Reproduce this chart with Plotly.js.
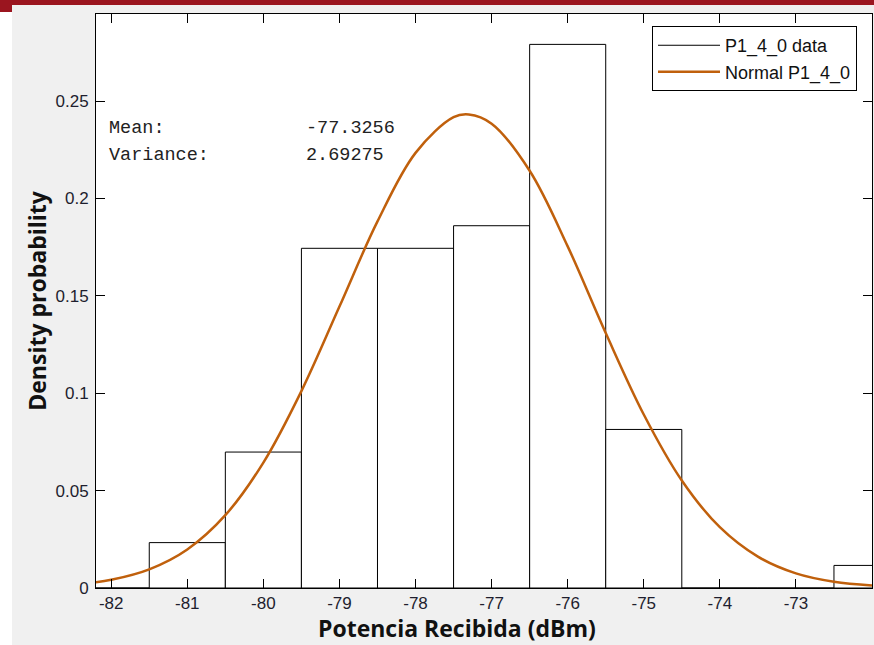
<!DOCTYPE html>
<html>
<head>
<meta charset="utf-8">
<script src="https://cdn.plot.ly/plotly-3.0.1.min.js"></script>
<style>
  html, body { margin: 0; padding: 0; background: #ffffff; width: 874px; height: 645px; overflow: hidden; }
  #topbar { position: absolute; left: 0; top: 0; width: 874px; height: 5px; background: #9b151f; }
  #toptab { position: absolute; left: 0; top: 0; width: 12px; height: 12px; background: #9b151f; }
  #chart { position: absolute; left: 12px; top: 5px; width: 862px; height: 640px; }
</style>
</head>
<body>
<div id="chart"></div>
<div id="topbar"></div>
<div id="toptab"></div>
<script>
// Histogram (density, bin width 1 dBm)
const binCenters = [-82, -81, -80, -79, -78, -77, -76, -75, -74, -73, -72];
const binDensity = [0, 0.0233, 0.0698, 0.1744, 0.1744, 0.1860, 0.2791, 0.0814, 0, 0, 0.0116];

// Fitted normal curve
const curveX = [-82.2, -82, -81.5, -81, -80.5, -80, -79.5, -79, -78.5, -78, -77.5, -77.3, -77, -76.5, -76, -75.5, -75, -74.5, -74, -73.5, -73, -72.5, -72];
const curveY = [0.0030, 0.0042, 0.0096, 0.0198, 0.0374, 0.0644, 0.1011, 0.1445, 0.1882, 0.2234, 0.2417, 0.2431, 0.2384, 0.2142, 0.1754, 0.1309, 0.0891, 0.0552, 0.0312, 0.0161, 0.0075, 0.0032, 0.0013];

const xTickVals = [-82, -81, -80, -79, -78, -77, -76, -75, -74, -73];
const xTickText = ["-82", "-81", "-80", "-79", "-78", "-77", "-76", "-75", "-74", "-73"];
const yTickVals = [0, 0.05, 0.1, 0.15, 0.2, 0.25];
const yTickText = ["0", "0.05", "0.1", "0.15", "0.2", "0.25"];

const seriesNames = ["P1_4_0 data", "Normal P1_4_0"];
const statLabels = ["Mean:", "Variance:"];
const statValues = ["-77.3256", "2.69275"];
const xTitle = 'Potencia Recibida (dBm)';
const yTitle = 'Density probability';

const traces = [
  {
    type: 'bar', x: binCenters, y: binDensity, width: 1,
    marker: { color: '#ffffff', line: { color: '#000000', width: 1 } },
    showlegend: false, hoverinfo: 'skip'
  },
  {
    type: 'scatter', mode: 'lines', x: [null], y: [null], name: seriesNames[0],
    line: { color: '#000000', width: 1 }
  },
  {
    type: 'scatter', mode: 'lines', x: curveX, y: curveY, name: seriesNames[1],
    line: { color: '#c0600c', width: 2.5, shape: 'spline', smoothing: 1 }
  }
];

const tickFont = { family: 'Arial, "Liberation Sans", sans-serif', size: 17, color: '#1e1e2e' };
const titleFont = { family: '"Open Sans", sans-serif', size: 23, color: '#111111', weight: 'bold' };
const monoFont = { family: '"Liberation Mono", "Courier New", monospace', size: 18.5, color: '#222222' };

const layout = {
  width: 862, height: 640,
  margin: { l: 84, r: 2, t: 9, b: 57 },
  paper_bgcolor: '#f0f0f0', plot_bgcolor: '#ffffff',
  bargap: 0,
  showlegend: true,
  legend: {
    x: 0.7165, y: 0.979, xanchor: 'left', yanchor: 'top',
    bgcolor: '#ffffff', bordercolor: '#000000', borderwidth: 1,
    font: { family: 'Arial, "Liberation Sans", sans-serif', size: 18, color: '#111111' },
    itemwidth: 62, tracegroupgap: 0
  },
  xaxis: {
    range: [-82.2, -72.0], tickmode: 'array', tickvals: xTickVals, ticktext: xTickText,
    ticks: 'inside', ticklen: 9, tickwidth: 1, tickcolor: '#000000',
    showline: true, linecolor: '#000000', linewidth: 1, mirror: 'ticks',
    showgrid: false, zeroline: false, tickfont: tickFont
  },
  yaxis: {
    range: [0, 0.2947], tickmode: 'array', tickvals: yTickVals, ticktext: yTickText,
    ticks: 'inside', ticklen: 9, tickwidth: 1, tickcolor: '#000000',
    showline: true, linecolor: '#000000', linewidth: 1, mirror: 'ticks',
    showgrid: false, zeroline: false, tickfont: tickFont, ticklabelstandoff: 3,
    title: { text: yTitle, font: titleFont, standoff: 2 }
  },
  annotations: [
    { x: 0.465, y: -0.07, xref: 'paper', yref: 'paper', text: xTitle, showarrow: false, xanchor: 'center', yanchor: 'middle', font: titleFont },
    { x: -82.05, y: 0.2361, xref: 'x', yref: 'y', text: statLabels[0], showarrow: false, xanchor: 'left', font: monoFont },
    { x: -82.05, y: 0.2223, xref: 'x', yref: 'y', text: statLabels[1], showarrow: false, xanchor: 'left', font: monoFont },
    { x: -79.46, y: 0.2361, xref: 'x', yref: 'y', text: statValues[0], showarrow: false, xanchor: 'left', font: monoFont },
    { x: -79.46, y: 0.2223, xref: 'x', yref: 'y', text: statValues[1], showarrow: false, xanchor: 'left', font: monoFont }
  ]
};

Plotly.newPlot('chart', traces, layout, { displayModeBar: false, staticPlot: true });
</script>
</body>
</html>
